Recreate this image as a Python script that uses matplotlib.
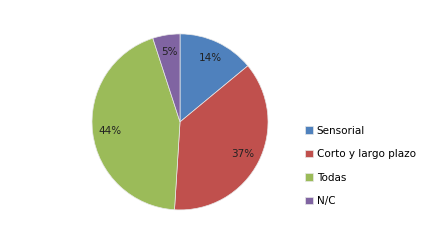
import matplotlib.pyplot as plt

categories = ["Sensorial", "Corto y largo plazo", "Todas", "N/C"]
values = [14, 37, 44, 5]
colors = ["#4F81BD", "#C0504D", "#9BBB59", "#8064A2"]

fig = plt.figure(figsize=(4.38, 2.40), dpi=100)
ax = fig.add_axes([0.411 - 0.201, 0.492 - 0.3667, 0.402, 0.7333])

wedges, texts, autotexts = ax.pie(
    values,
    colors=colors,
    startangle=90,
    counterclock=False,
    autopct="%d%%",
    pctdistance=0.8,
    radius=1.0,
    wedgeprops=dict(edgecolor="#e8e8e8", linewidth=0.5),
    textprops=dict(fontsize=7.5, color="#222222"),
)
ax.set_xlim(-1, 1)
ax.set_ylim(-1, 1)
ax.set_aspect("equal")

fig.legend(
    wedges, categories,
    loc="upper left",
    bbox_to_anchor=(0.685, 0.498),
    frameon=False,
    fontsize=7.5,
    handlelength=0.7,
    handleheight=0.7,
    handletextpad=0.4,
    labelspacing=1.3,
    borderpad=0,
)

fig.savefig("out.png", dpi=100)
